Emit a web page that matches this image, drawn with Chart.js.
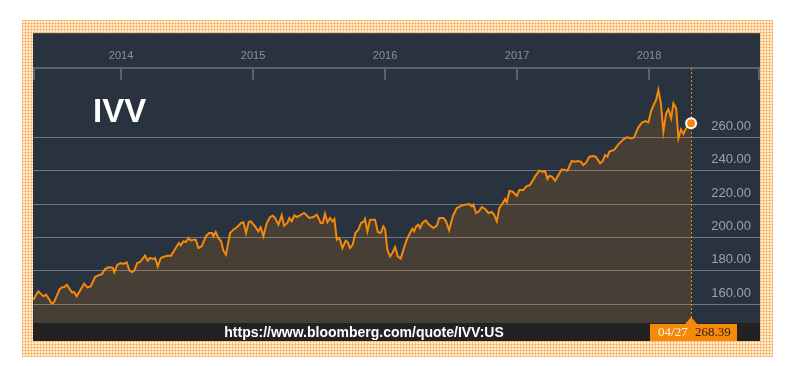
<!DOCTYPE html>
<html>
<head>
<meta charset="utf-8">
<script src="https://cdn.jsdelivr.net/npm/chart.js@4.4.1/dist/chart.umd.min.js"></script>
<style>
  html, body { margin: 0; padding: 0; background: #fff; }
  body { width: 787px; height: 366px; position: relative; overflow: hidden; }
  #frame {
    position: absolute; left: 22px; top: 20px; width: 751px; height: 337px;
    background-color: #ffeed8;
    background-image:
      repeating-linear-gradient(0deg, rgba(247,160,60,.55) 0 1px, transparent 1px 3px),
      repeating-linear-gradient(90deg, rgba(247,160,60,.55) 0 1px, transparent 1px 3px);
  }
  #wrap { position: absolute; left: 33px; top: 33px; width: 727px; height: 308px; }
</style>
</head>
<body>
<div id="frame"></div>
<div id="wrap"><canvas id="chart" width="727" height="308"></canvas></div>
<script>
const TICKER = 'IVV';
const SOURCE_URL = 'https://www.bloomberg.com/quote/IVV:US';
const LAST_DATE_LABEL = '04/27';

// x positions as decimal years, prices
const years = [
  2013.336, 2013.373, 2013.411, 2013.432, 2013.449, 2013.475, 2013.492, 2013.533, 2013.551, 2013.570,
  2013.589, 2013.627, 2013.644, 2013.664, 2013.689, 2013.720, 2013.745, 2013.770, 2013.803, 2013.828,
  2013.854, 2013.879, 2013.904, 2013.937, 2013.949, 2013.972, 2013.998, 2014.017, 2014.043, 2014.063,
  2014.081, 2014.101, 2014.123, 2014.144, 2014.182, 2014.202, 2014.220, 2014.245, 2014.258, 2014.278,
  2014.301, 2014.333, 2014.351, 2014.379, 2014.422, 2014.439, 2014.452, 2014.472, 2014.492, 2014.510,
  2014.530, 2014.548, 2014.566, 2014.586, 2014.611, 2014.642, 2014.667, 2014.689, 2014.699, 2014.717,
  2014.737, 2014.758, 2014.775, 2014.795, 2014.826, 2014.851, 2014.877, 2014.909, 2014.927, 2014.947,
  2014.967, 2014.983, 2015.015, 2015.040, 2015.058, 2015.078, 2015.104, 2015.129, 2015.149, 2015.167,
  2015.192, 2015.217, 2015.235, 2015.260, 2015.275, 2015.293, 2015.313, 2015.331, 2015.356, 2015.386,
  2015.427, 2015.457, 2015.483, 2015.513, 2015.528, 2015.545, 2015.563, 2015.583, 2015.601, 2015.616,
  2015.634, 2015.649, 2015.659, 2015.677, 2015.702, 2015.717, 2015.735, 2015.755, 2015.775, 2015.798,
  2015.818, 2015.841, 2015.848, 2015.866, 2015.886, 2015.924, 2015.945, 2015.967, 2015.987, 2016.000,
  2016.017, 2016.038, 2016.055, 2016.076, 2016.096, 2016.119, 2016.139, 2016.164, 2016.189, 2016.207,
  2016.220, 2016.235, 2016.252, 2016.265, 2016.283, 2016.308, 2016.328, 2016.366, 2016.392, 2016.411,
  2016.442, 2016.462, 2016.485, 2016.513, 2016.543, 2016.568, 2016.606, 2016.639, 2016.657, 2016.669,
  2016.689, 2016.707, 2016.733, 2016.758, 2016.783, 2016.808, 2016.826, 2016.846, 2016.866, 2016.892,
  2016.909, 2016.922, 2016.942, 2016.967, 2016.998, 2017.017, 2017.048, 2017.068, 2017.098, 2017.136,
  2017.169, 2017.195, 2017.212, 2017.230, 2017.245, 2017.263, 2017.288, 2017.313, 2017.339, 2017.364,
  2017.381, 2017.414, 2017.439, 2017.460, 2017.483, 2017.502, 2017.523, 2017.548, 2017.573, 2017.596,
  2017.629, 2017.649, 2017.667, 2017.684, 2017.699, 2017.735, 2017.767, 2017.805, 2017.831, 2017.869,
  2017.886, 2017.919, 2017.945, 2017.970, 2017.995, 2018.015, 2018.038, 2018.053, 2018.070, 2018.089,
  2018.108, 2018.129, 2018.146, 2018.167, 2018.184, 2018.205, 2018.222, 2018.242, 2018.260, 2018.280,
  2018.318
];
const prices = [
  162.6, 167.6, 164.6, 165.6, 163.6, 160.2, 161.0, 168.6, 170.0, 170.2,
  171.6, 167.0, 167.2, 164.6, 168.0, 172.2, 170.0, 170.6, 176.2, 177.2,
  177.8, 181.0, 182.0, 181.8, 179.0, 183.6, 184.6, 184.0, 185.0, 180.2,
  179.0, 180.2, 184.6, 185.2, 189.0, 186.0, 187.6, 187.0, 187.6, 182.6,
  187.6, 188.6, 189.0, 189.0, 194.6, 196.6, 195.2, 197.6, 197.2, 199.6,
  198.0, 198.6, 198.6, 193.6, 194.6, 200.6, 202.6, 202.6, 200.6, 203.2,
  199.6, 197.6, 192.0, 189.6, 202.6, 204.6, 206.0, 208.6, 209.0, 202.6,
  209.2, 209.6, 206.6, 203.6, 206.0, 200.6, 208.6, 212.2, 213.0, 211.6,
  207.6, 213.2, 207.0, 208.6, 211.6, 209.6, 213.2, 212.2, 213.2, 214.6,
  211.6, 212.2, 213.6, 208.6, 208.6, 214.2, 209.0, 211.6, 209.6, 211.0,
  198.6, 199.6, 198.6, 193.6, 198.0, 197.0, 193.6, 195.6, 202.6, 204.6,
  208.6, 209.6, 211.0, 203.6, 210.6, 210.6, 203.2, 202.6, 206.6, 205.0,
  192.6, 188.6, 190.6, 194.2, 188.6, 187.2, 192.6, 198.6, 202.6, 205.2,
  203.6, 206.6, 207.6, 205.6, 208.6, 210.2, 208.0, 205.6, 207.0, 211.6,
  211.6, 209.6, 204.2, 212.6, 217.6, 218.6, 219.6, 220.0, 218.6, 219.6,
  214.6, 215.2, 218.2, 217.0, 214.6, 215.2, 213.6, 209.6, 217.6, 220.6,
  223.0, 221.0, 227.8, 227.4, 225.0, 228.4, 228.4, 230.4, 231.4, 236.4,
  240.0, 239.4, 239.8, 235.0, 237.0, 236.4, 234.0, 237.4, 240.8, 240.4,
  240.0, 245.8, 245.4, 245.8, 245.4, 243.4, 244.8, 248.4, 248.8, 248.4,
  244.4, 245.8, 249.4, 248.4, 251.4, 252.4, 255.8, 258.8, 260.0, 259.4,
  260.0, 266.0, 268.8, 269.8, 269.0, 275.8, 280.0, 282.4, 288.4, 280.4,
  263.4, 274.4, 276.8, 271.4, 280.4, 277.4, 259.4, 264.8, 262.0, 265.4,
  268.39
];
const yearTicks = [2014, 2015, 2016, 2017, 2018];
const priceTicks = [160, 180, 200, 220, 240, 260];

const ORANGE = '#f5890b';
const lastIdx = prices.length - 1;

const panelPlugin = {
  id: 'panel',
  beforeDraw(chart) {
    const { ctx, width, height } = chart;
    ctx.save();
    ctx.fillStyle = '#29323f';
    ctx.fillRect(0, 0, width, height);
    ctx.fillStyle = '#4a5058';
    ctx.fillRect(0, 0, width, 1);
    ctx.restore();
  },
  beforeDatasetsDraw(chart) {
    const { ctx, chartArea, scales: { x } } = chart;
    ctx.save();
    // tick marks hanging down from the top axis line
    ctx.strokeStyle = '#5d6168';
    ctx.lineWidth = 2;
    const tickXs = [chartArea.left + 1, ...yearTicks.map(v => x.getPixelForValue(v)), chartArea.right - 1];
    tickXs.forEach(px => {
      ctx.beginPath();
      ctx.moveTo(Math.round(px), chartArea.top);
      ctx.lineTo(Math.round(px), chartArea.top + 12);
      ctx.stroke();
    });
    // dotted line at the last quote
    const lx = Math.round(x.getPixelForValue(years[lastIdx])) + 0.5;
    ctx.strokeStyle = ORANGE;
    ctx.lineWidth = 1;
    ctx.setLineDash([2, 2]);
    ctx.beginPath();
    ctx.moveTo(lx, chartArea.top);
    ctx.lineTo(lx, chartArea.bottom);
    ctx.stroke();
    ctx.restore();
  },
  afterDraw(chart) {
    const { ctx, chartArea, width, height, scales: { x } } = chart;
    const tip = x.getPixelForValue(years[lastIdx]);
    const barTop = chartArea.bottom;
    const midY = (barTop + height) / 2 + 1;
    ctx.save();
    // source bar
    ctx.fillStyle = '#222222';
    ctx.fillRect(0, barTop, width, height - barTop);
    ctx.fillStyle = '#ffffff';
    ctx.font = 'bold 14px "Liberation Sans", Arial, sans-serif';
    ctx.textAlign = 'center';
    ctx.textBaseline = 'middle';
    ctx.fillText(SOURCE_URL, (chartArea.left + tip) / 2 + 2, midY);
    // last value tag
    ctx.fillStyle = ORANGE;
    ctx.fillRect(Math.round(tip) - 41, barTop + 1, 87, height - barTop - 1);
    ctx.beginPath();
    ctx.moveTo(tip - 6, barTop + 1);
    ctx.lineTo(tip, barTop - 6);
    ctx.lineTo(tip + 6, barTop + 1);
    ctx.closePath();
    ctx.fill();
    ctx.font = '13px "Liberation Serif", "Times New Roman", serif';
    ctx.textAlign = 'left';
    ctx.fillStyle = '#fff4e4';
    ctx.fillText(LAST_DATE_LABEL, tip - 33, midY);
    ctx.fillStyle = '#2b1d0e';
    ctx.fillText(prices[lastIdx].toFixed(2), tip + 4, midY);
    // ticker title
    ctx.fillStyle = '#ffffff';
    ctx.font = 'bold 33px "Liberation Sans", Arial, sans-serif';
    ctx.textBaseline = 'alphabetic';
    ctx.fillText(TICKER, 60, 89);
    ctx.restore();
  }
};

new Chart(document.getElementById('chart'), {
  type: 'line',
  data: {
    datasets: [{
      data: years.map((yr, i) => ({ x: yr, y: prices[i] })),
      borderColor: ORANGE,
      borderWidth: 2,
      backgroundColor: 'rgba(250,135,0,0.15)',
      fill: 'start',
      tension: 0,
      pointRadius: ctx => ctx.dataIndex === lastIdx ? 5 : 0,
      pointHoverRadius: 0,
      pointBackgroundColor: ORANGE,
      pointBorderColor: '#ffffff',
      pointBorderWidth: 2,
    }]
  },
  options: {
    responsive: false,
    animation: false,
    layout: { autoPadding: false, padding: { top: 15, bottom: 18, left: 0, right: 0 } },
    plugins: { legend: { display: false }, tooltip: { enabled: false } },
    scales: {
      x: {
        type: 'linear',
        position: 'top',
        min: 2013.333,
        max: 2018.84,
        afterBuildTicks: s => { s.ticks = yearTicks.map(v => ({ value: v })); },
        afterFit: s => { s.height = 20; },
        grid: { drawOnChartArea: false, drawTicks: false },
        border: { display: true, color: '#5d6168', width: 2 },
        ticks: {
          color: '#8a8f96',
          font: { family: '"Liberation Sans", Arial, sans-serif', size: 11 },
          padding: 5,
          maxRotation: 0,
          callback: v => String(v),
        }
      },
      y: {
        type: 'linear',
        position: 'right',
        min: 148.6,
        max: 301.6,
        afterBuildTicks: s => { s.ticks = priceTicks.map(v => ({ value: v })); },
        afterFit: s => { s.width = 0; },
        grid: { color: '#72767c', lineWidth: 1, drawTicks: false },
        border: { display: false },
        ticks: {
          mirror: true,
          padding: -9,
          labelOffset: -11,
          color: '#9ea2a8',
          font: { family: '"Liberation Sans", Arial, sans-serif', size: 13 },
          callback: v => v.toFixed(2),
        }
      }
    }
  },
  plugins: [panelPlugin]
});
</script>
</body>
</html>
